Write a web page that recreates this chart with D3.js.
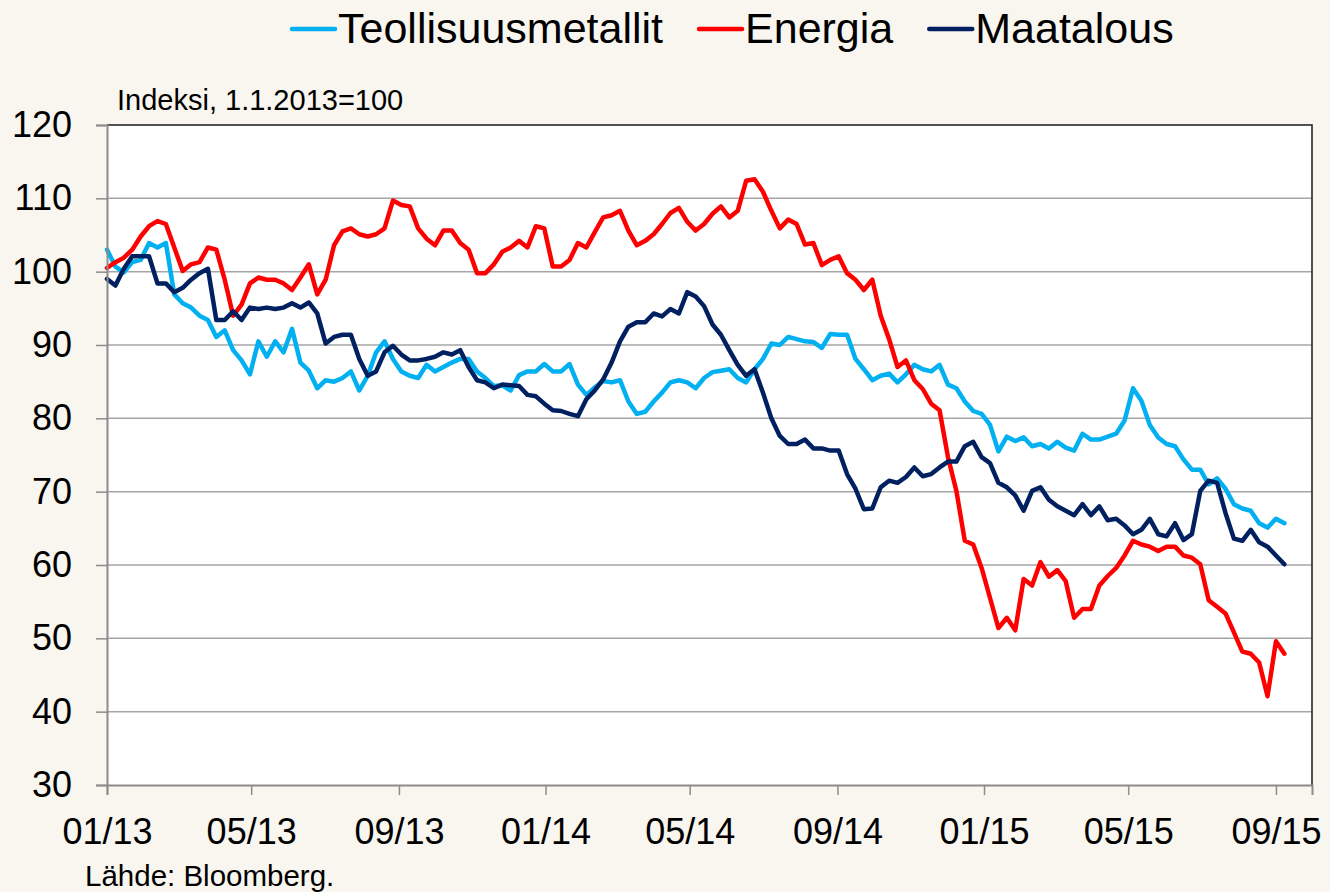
<!DOCTYPE html>
<html>
<head>
<meta charset="utf-8">
<script src="https://cdn.jsdelivr.net/npm/d3@7"></script>
<style>
  body { margin: 0; background: #f9f5ef; }
  svg { display: block; font-family: "Liberation Sans", Arial, sans-serif; }
</style>
</head>
<body>
<svg id="chart"></svg>
<script>
// weekly readings, first point 1.1.2013
const startDate = new Date(2013, 0, 1);

const teollisuusmetallit = [
  103.0, 100.7, 99.9, 101.3, 101.6, 103.9, 103.3, 103.9, 96.9, 95.7,
  95.1, 94.0, 93.4, 91.1, 92.0, 89.3, 87.9, 86.0, 90.5, 88.4,
  90.5, 89.0, 92.2, 87.6, 86.5, 84.1, 85.2, 85.0, 85.5, 86.4,
  83.8, 85.8, 89.0, 90.5, 88.1, 86.4, 85.8, 85.5, 87.3, 86.4,
  87.0, 87.6, 88.1, 88.1, 86.4, 85.5, 84.4, 84.5, 83.8, 85.9,
  86.4, 86.4, 87.4, 86.4, 86.4, 87.4, 84.6, 83.2, 84.2, 85.1,
  84.9, 85.2, 82.3, 80.6, 80.9, 82.3, 83.5, 84.9, 85.2, 84.9,
  84.1, 85.5, 86.3, 86.5, 86.7, 85.5, 84.9, 86.7, 88.1, 90.2,
  90.0, 91.1, 90.8, 90.5, 90.4, 89.6, 91.5, 91.4, 91.4, 88.1,
  86.7, 85.2, 85.8, 86.1, 84.9, 86.0, 87.3, 86.7, 86.4, 87.3,
  84.6, 84.1, 82.3, 81.0, 80.6, 79.1, 75.5, 77.5, 76.9, 77.4,
  76.2, 76.5, 75.9, 76.8, 76.0, 75.6, 77.9, 77.1, 77.1, 77.5,
  77.9, 79.7, 84.1, 82.4, 79.1, 77.4, 76.5, 76.2, 74.4, 73.0,
  73.0, 71.0, 71.8, 70.4, 68.3, 67.7, 67.4, 65.7, 65.1, 66.3,
  65.7
];

const energia = [
  100.5, 101.3, 101.9, 103.0, 104.8, 106.2, 106.9, 106.5, 103.3, 100.1,
  101.0, 101.3, 103.3, 103.0, 98.9, 94.0, 95.5, 98.4, 99.2, 98.9,
  98.9, 98.4, 97.5, 99.2, 101.0, 96.9, 98.9, 103.6, 105.5, 105.9,
  105.1, 104.8, 105.1, 105.9, 109.7, 109.1, 108.9, 105.9, 104.5, 103.6,
  105.6, 105.6, 103.9, 103.0, 99.8, 99.8, 101.0, 102.7, 103.3, 104.2,
  103.3, 106.2, 105.9, 100.7, 100.7, 101.6, 103.9, 103.3, 105.4, 107.4,
  107.7, 108.3, 105.6, 103.6, 104.2, 105.1, 106.5, 108.0, 108.7, 106.8,
  105.6, 106.5, 107.9, 108.9, 107.4, 108.3, 112.4, 112.6, 110.9, 108.3,
  105.9, 107.1, 106.5, 103.7, 103.9, 100.9, 101.6, 102.1, 99.8, 98.9,
  97.5, 98.9, 94.0, 90.8, 87.0, 87.9, 85.2, 84.0, 82.0, 81.1,
  74.7, 70.1, 63.3, 62.8, 59.6, 55.5, 51.4, 52.8, 51.1, 58.1,
  57.2, 60.4, 58.4, 59.3, 57.8, 52.8, 54.0, 54.0, 57.2, 58.5,
  59.6, 61.3, 63.3, 62.8, 62.5, 61.9, 62.5, 62.5, 61.3, 61.0,
  60.1, 55.2, 54.3, 53.4, 50.8, 48.2, 47.9, 46.7, 42.1, 49.6,
  47.9
];

const maatalous = [
  99.0, 98.1, 100.4, 102.1, 102.1, 102.1, 98.4, 98.4, 97.2, 97.8,
  98.9, 99.8, 100.4, 93.4, 93.4, 94.6, 93.4, 95.1, 94.9, 95.1,
  94.9, 95.1, 95.7, 95.1, 95.8, 94.3, 90.2, 91.1, 91.4, 91.4,
  88.1, 85.8, 86.4, 89.0, 89.9, 88.7, 87.9, 87.9, 88.1, 88.4,
  89.0, 88.7, 89.3, 87.0, 85.2, 84.9, 84.1, 84.6, 84.5, 84.4,
  83.2, 83.0, 82.0, 81.1, 81.0, 80.6, 80.3, 82.6, 83.8, 85.3,
  87.6, 90.5, 92.5, 93.1, 93.1, 94.3, 93.9, 94.9, 94.3, 97.2,
  96.6, 95.3, 92.8, 91.4, 89.3, 87.3, 85.8, 86.7, 83.5, 80.0,
  77.6, 76.5, 76.5, 77.1, 75.9, 75.9, 75.6, 75.6, 72.4, 70.4,
  67.6, 67.7, 70.6, 71.5, 71.2, 72.0, 73.3, 72.1, 72.4, 73.3,
  74.1, 74.1, 76.2, 76.8, 74.7, 73.9, 71.2, 70.6, 69.5, 67.4,
  70.1, 70.6, 68.9, 68.0, 67.4, 66.8, 68.3, 66.8, 68.0, 66.1,
  66.3, 65.4, 64.2, 64.8, 66.3, 64.2, 63.9, 65.7, 63.4, 64.2,
  70.1, 71.5, 71.2, 67.1, 63.6, 63.3, 64.8, 63.1, 62.5, 61.3,
  60.1
];

const seriesNames = ["Teollisuusmetallit", "Energia", "Maatalous"];
const seriesColors = ["#00b0f0", "#ff0000", "#002060"];
const yTicks = [30, 40, 50, 60, 70, 80, 90, 100, 110, 120];

const width = 1330;
const height = 892;
const plotLeft = 107, plotRight = 1312, plotTop = 125, plotBottom = 785;

const svg = d3.select('#chart')
  .attr('width', width)
  .attr('height', height);

const x = d3.scaleTime()
  .domain([new Date(2013, 0, 1), new Date(2015, 9, 1)])
  .range([plotLeft, plotRight]);

const y = d3.scaleLinear()
  .domain([30, 120])
  .range([plotBottom, plotTop]);

// plot area
svg.append('rect')
  .attr('x', plotLeft).attr('y', plotTop)
  .attr('width', plotRight - plotLeft).attr('height', plotBottom - plotTop)
  .style('fill', '#ffffff');

// gridlines
svg.append('g')
  .selectAll('line')
  .data(yTicks.filter(d => d > 30 && d < 120))
  .enter()
  .append('line')
  .attr('x1', plotLeft).attr('x2', plotRight)
  .attr('y1', d => y(d)).attr('y2', d => y(d))
  .style('stroke', '#a6a6a6')
  .style('stroke-width', 1.5);

// top and right frame
svg.append('path')
  .attr('d', `M${plotLeft},${plotTop}H${plotRight}V${plotBottom}`)
  .style('fill', 'none')
  .style('stroke', '#1a1a1a')
  .style('stroke-width', 1.5);

// series
const dates = energia.map((_, i) => d3.timeDay.offset(startDate, 7 * i));
const line = d3.line()
  .x((d, i) => x(dates[i]))
  .y(d => y(d));

[teollisuusmetallit, energia, maatalous].forEach((values, k) => {
  svg.append('path')
    .datum(values)
    .attr('d', line)
    .style('fill', 'none')
    .style('stroke', seriesColors[k])
    .style('stroke-width', 4.5)
    .style('stroke-linejoin', 'round')
    .style('stroke-linecap', 'round');
});

// y axis
const yAxis = svg.append('g')
  .attr('transform', `translate(${plotLeft},0)`)
  .call(d3.axisLeft(y).tickValues(yTicks).tickSize(11).tickPadding(24).tickFormat(d3.format('d')));
yAxis.select('.domain').style('stroke', '#8c8c8c').style('stroke-width', 2);
yAxis.selectAll('.tick line').style('stroke', '#8c8c8c').style('stroke-width', 1.5);
yAxis.selectAll('.tick text')
  .style('font-size', '36px')
  .style('font-family', '"Liberation Sans", Arial, sans-serif')
  .style('fill', '#000');

// x axis
const xAxis = svg.append('g')
  .attr('transform', `translate(0,${plotBottom})`)
  .call(d3.axisBottom(x)
    .tickValues(d3.timeMonth.every(4).range(new Date(2013, 0, 1), new Date(2015, 9, 2)))
    .tickSize(10).tickPadding(23)
    .tickFormat(d3.timeFormat('%m/%y')));
xAxis.select('.domain').style('stroke', '#8c8c8c').style('stroke-width', 2);
xAxis.selectAll('.tick line').style('stroke', '#8c8c8c').style('stroke-width', 1.5);
xAxis.selectAll('.tick text')
  .style('font-size', '36px')
  .style('font-family', '"Liberation Sans", Arial, sans-serif')
  .style('fill', '#000');

// unit label and source
svg.append('text')
  .attr('x', 117).attr('y', 110)
  .style('font-size', '29px')
  .text('Indeksi, 1.1.2013=100');

svg.append('text')
  .attr('x', 85).attr('y', 886)
  .style('font-size', '29.5px')
  .text('Lähde: Bloomberg.');

// legend
const legend = svg.append('g');
let lx = 292;
seriesNames.forEach((name, k) => {
  legend.append('line')
    .attr('x1', lx).attr('x2', lx + 43)
    .attr('y1', 29).attr('y2', 29)
    .style('stroke', seriesColors[k])
    .style('stroke-width', 4.5)
    .style('stroke-linecap', 'round');
  const t = legend.append('text')
    .attr('x', lx + 46).attr('y', 43)
    .style('font-size', '43px')
    .text(name);
  lx += 46 + t.node().getComputedTextLength() + 36;
});
</script>
</body>
</html>
